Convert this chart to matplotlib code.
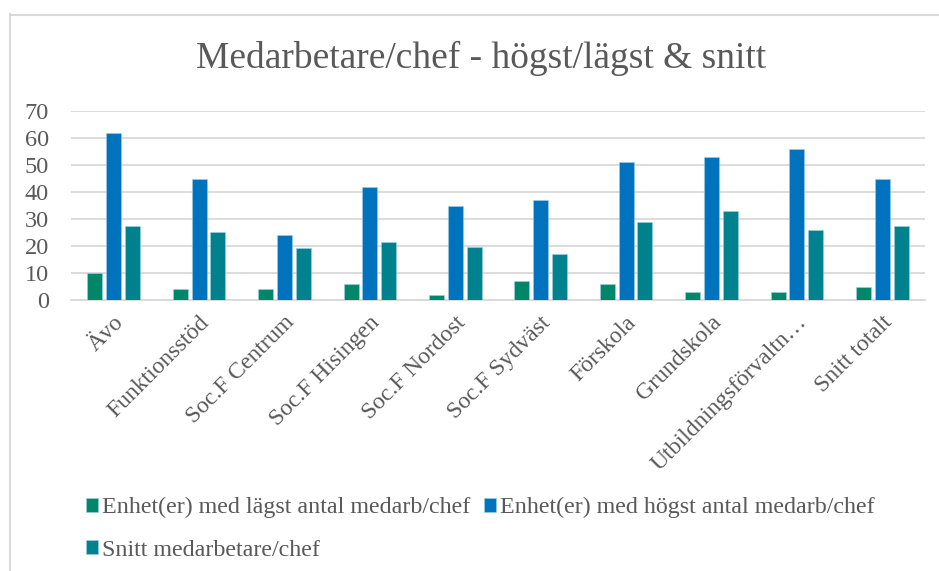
import numpy as np
import matplotlib.pyplot as plt
import matplotlib.transforms as mtransforms
from matplotlib.lines import Line2D

# data
categories = ["Ävo", "Funktionsstöd", "Soc.F Centrum", "Soc.F Hisingen", "Soc.F Nordost",
              "Soc.F Sydväst", "Förskola", "Grundskola", "Utbildningsförvaltn…", "Snitt totalt"]
lowest = [10, 4, 4, 6, 2, 7, 6, 3, 3, 5]
highest = [62, 45, 24, 42, 35, 37, 51, 53, 56, 45]
average = [27.5, 25.2, 19.3, 21.4, 19.7, 16.9, 28.9, 33, 25.8, 27.4]

series_names = ["Enhet(er) med lägst antal medarb/chef",
                "Enhet(er) med högst antal medarb/chef",
                "Snitt medarbetare/chef"]
colors = ["#00876A", "#0072BE", "#00828E"]

text_color = "#595959"
grid_color = "#D9D9D9"
plt.rcParams['font.family'] = ['Liberation Serif', 'DejaVu Serif']

fig = plt.figure(figsize=(9.39, 5.71), dpi=100)
ax = fig.add_axes([71 / 939, 1 - 300 / 571, (925 - 71) / 939, (300 - 111) / 571])

x = np.arange(len(categories))
width = 0.175
step = 0.22
handles = []
for i, (vals, col) in enumerate(zip([lowest, highest, average], colors)):
    b = ax.bar(x + (i - 1) * step, vals, width, color=col, edgecolor="#9fd0e6",
               linewidth=0.4, label=series_names[i], zorder=3)
    handles.append(b)

ax.set_ylim(0, 70)
ax.set_xlim(-0.5, len(categories) - 0.5)
ax.set_yticks(np.arange(0, 71, 10))
ax.yaxis.grid(True, color=grid_color, linewidth=1.3, zorder=0)
ax.set_axisbelow(True)
for s in ["top", "right", "left"]:
    ax.spines[s].set_visible(False)
ax.spines["bottom"].set_color(grid_color)
ax.spines["bottom"].set_linewidth(1.3)
ax.tick_params(axis="both", length=0, labelcolor=text_color)
ax.tick_params(axis="y", pad=16, labelsize=17.5)
ax.tick_params(axis="x", pad=14, labelsize=17)
ax.set_xticks(x)
ax.set_xticklabels(categories, rotation=45, ha="right", va="center", rotation_mode="anchor")
# nudge the rotated labels a little to the right, like Excel places them
shift = mtransforms.ScaledTranslation(7 / 100, 0, fig.dpi_scale_trans)
for lbl in ax.get_xticklabels():
    lbl.set_transform(lbl.get_transform() + shift)

fig.text(0.512, 1 - 58 / 571, "Medarbetare/chef - högst/lägst & snitt", ha="center", va="center",
         fontsize=27, color=text_color)

# reorder so that items read row-wise like the original legend
leg = fig.legend([handles[0], handles[2], handles[1]],
                 [series_names[0], series_names[2], series_names[1]],
                 ncol=2, loc="upper left", bbox_to_anchor=(74 / 939, 1 - 485 / 571),
                 frameon=False, fontsize=17.3, handlelength=0.5, handleheight=0.5,
                 handletextpad=0.15, columnspacing=0.6, labelspacing=0.9, labelcolor=text_color,
                 borderpad=0)

# chart frame (cropped at right and bottom)
fig.add_artist(Line2D([9.5 / 939, 9.5 / 939], [0, 1 - 14 / 571], color=grid_color, linewidth=1.5))
fig.add_artist(Line2D([9.5 / 939, 1], [1 - 14.5 / 571, 1 - 14.5 / 571], color=grid_color, linewidth=1.5))

fig.savefig("out.png", dpi=100)
